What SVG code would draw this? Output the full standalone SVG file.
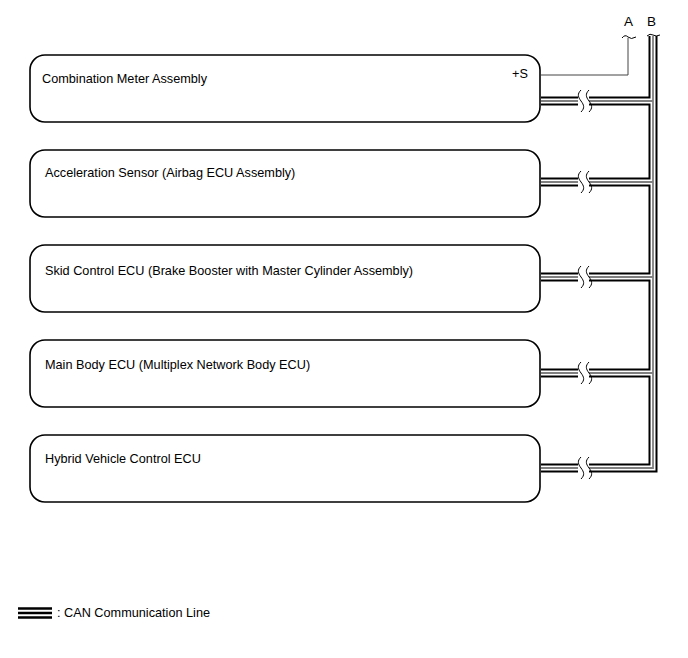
<svg xmlns="http://www.w3.org/2000/svg" width="688" height="658" viewBox="0 0 688 658">
<style>
.box{fill:#fff;stroke:#000;stroke-width:1.6}
.t{font-family:"Liberation Sans",Arial,sans-serif;font-size:12.7px;fill:#000}
.lbl{font-family:"Liberation Sans",Arial,sans-serif;font-size:13.5px;fill:#000}
.cb{fill:none;stroke:#000;stroke-width:9}
.cw{fill:none;stroke:#fff;stroke-width:5}
.cg{fill:none;stroke:#808080;stroke-width:1.8}
.w{fill:none;stroke:#444;stroke-width:1}
.brk{fill:none;stroke:#000;stroke-width:1}
</style>
<rect width="688" height="658" fill="#fff"/>
<g id="node-combination-meter">
<rect class="box" x="30" y="55" width="510" height="67" rx="15"/>
<text class="t" x="42" y="83">Combination Meter Assembly</text>
<text class="t" x="512" y="78">+S</text>
</g>
<g id="node-acceleration-sensor">
<rect class="box" x="30" y="150" width="510" height="67" rx="15"/>
<text class="t" x="45" y="177">Acceleration Sensor (Airbag ECU Assembly)</text>
</g>
<g id="node-skid-control">
<rect class="box" x="30" y="245" width="510" height="67" rx="15"/>
<text class="t" x="45" y="275">Skid Control ECU (Brake Booster with Master Cylinder Assembly)</text>
</g>
<g id="node-main-body">
<rect class="box" x="30" y="340" width="510" height="67" rx="15"/>
<text class="t" x="45" y="369">Main Body ECU (Multiplex Network Body ECU)</text>
</g>
<g id="node-hybrid">
<rect class="box" x="30" y="435" width="510" height="67" rx="15"/>
<text class="t" x="45" y="463">Hybrid Vehicle Control ECU</text>
</g>
<g id="labels">
<text class="lbl" x="624" y="26">A</text>
<text class="lbl" x="647" y="26">B</text>
</g>
<g id="connectors">
<path class="w" d="M541,75 H628 V38"/>
<path class="brk" d="M622,38 q3,-4 6,-1 q3,3 8,0"/>
<g id="can-bus">
<path class="cb" d="M653,36 V468 H541"/>
<path class="cb" d="M541,101 H653 M541,182 H653 M541,277 H653 M541,373 H653"/>
<path class="cw" d="M653,36 V468 H541"/>
<path class="cw" d="M541,101 H653 M541,182 H653 M541,277 H653 M541,373 H653"/>
<path class="cg" d="M653,36 V468 H541"/>
<path class="cg" d="M541,101 H653 M541,182 H653 M541,277 H653 M541,373 H653"/>
<path class="brk" d="M647,36 q3,-3 6,-1 q3,2 7,0"/>
</g>
<g id="breaks">
<rect x="578" y="94" width="11" height="15" fill="#fff"/>
<rect x="578" y="175" width="11" height="15" fill="#fff"/>
<rect x="578" y="270" width="11" height="15" fill="#fff"/>
<rect x="578" y="366" width="11" height="15" fill="#fff"/>
<rect x="578" y="461" width="11" height="15" fill="#fff"/>
<path class="brk" d="M581,90 c-4,4 -3,7 0,11 c3,4 4,7 0,11 M589,90 c-4,4 -3,7 0,11 c3,4 4,7 0,11"/>
<path class="brk" d="M581,171 c-4,4 -3,7 0,11 c3,4 4,7 0,11 M589,171 c-4,4 -3,7 0,11 c3,4 4,7 0,11"/>
<path class="brk" d="M581,266 c-4,4 -3,7 0,11 c3,4 4,7 0,11 M589,266 c-4,4 -3,7 0,11 c3,4 4,7 0,11"/>
<path class="brk" d="M581,362 c-4,4 -3,7 0,11 c3,4 4,7 0,11 M589,362 c-4,4 -3,7 0,11 c3,4 4,7 0,11"/>
<path class="brk" d="M581,457 c-4,4 -3,7 0,11 c3,4 4,7 0,11 M589,457 c-4,4 -3,7 0,11 c3,4 4,7 0,11"/>
</g>
</g>
<g id="legend">
<path d="M18,608.5 H52 M18,613 H52 M18,617.5 H52" stroke="#000" stroke-width="2.5" fill="none"/>
<text class="t" x="57" y="617">: CAN Communication Line</text>
</g>
</svg>
